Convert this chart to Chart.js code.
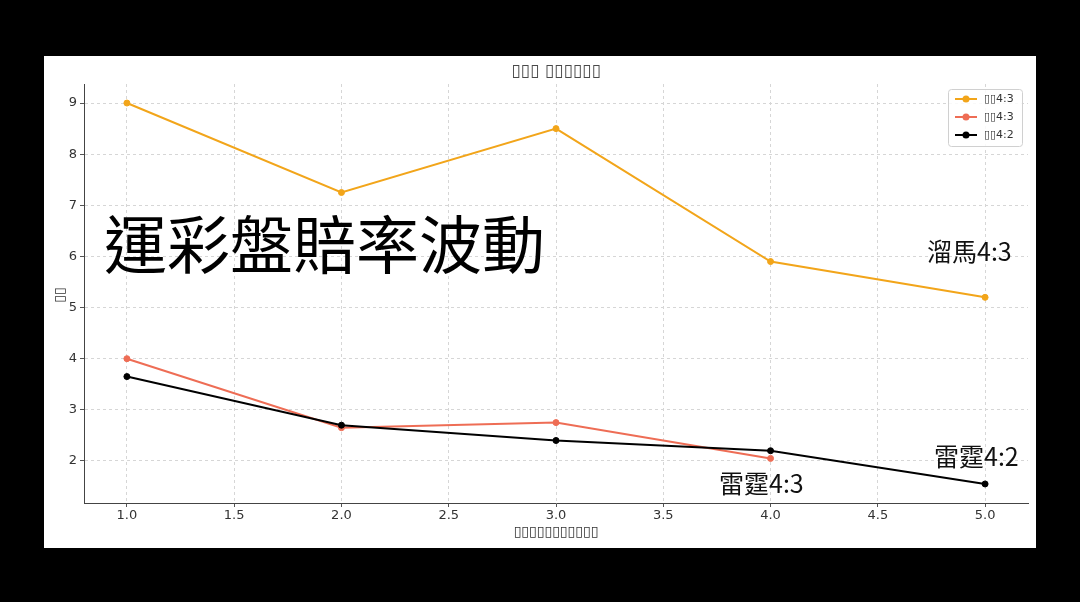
<!DOCTYPE html>
<html>
<head>
<meta charset="utf-8">
<script src="https://cdn.jsdelivr.net/npm/chart.js@4/dist/chart.umd.min.js"></script>
<style>
  html, body { margin: 0; padding: 0; background: #000; width: 1080px; height: 602px; overflow: hidden; }
  #wrap { position: absolute; left: 44px; top: 56px; width: 992px; height: 492px; background: #fff; }
  canvas { display: block; }
</style>
</head>
<body>
<div id="wrap"><canvas id="c" width="992" height="492"></canvas></div>
<script>
// ---- data ----
const xValues = [1, 2, 3, 4, 5];
const seriesNames = ['▯▯4:3', '▯▯4:3', '▯▯4:2'];
const liumaValues = [9.0, 7.25, 8.5, 5.9, 5.2];
const leiting43Values = [4.0, 2.65, 2.75, 2.05, null];
const leiting42Values = [3.65, 2.7, 2.4, 2.2, 1.55];
const xTickValues = [1.0, 1.5, 2.0, 2.5, 3.0, 3.5, 4.0, 4.5, 5.0];
const yTickValues = [2, 3, 4, 5, 6, 7, 8, 9];
const titleText = '▯▯▯ ▯▯▯▯▯▯';
const xAxisLabel = '▯▯▯▯▯▯▯▯▯▯▯';
const yAxisLabel = '▯▯';
const headline = '運彩盤賠率波動';
const annotations = [
  { text: '溜馬4:3', x: 883, y: 205 },
  { text: '雷霆4:2', x: 890, y: 410 },
  { text: '雷霆4:3', x: 675, y: 437 }
];

const colors = ['#F2A51A', '#EE6D55', '#000000'];
const toPts = arr => xValues.map((x, i) => ({ x: x, y: arr[i] }));

const overlay = {
  id: 'overlay',
  afterDraw(chart) {
    const ctx = chart.ctx;
    ctx.save();
    // title
    ctx.fillStyle = '#4a4a4a';
    ctx.font = '17px "DejaVu Sans"';
    ctx.textAlign = 'center';
    ctx.textBaseline = 'middle';
    ctx.fillText(titleText, 512, 16);
    // x label
    ctx.font = '14px "DejaVu Sans"';
    ctx.fillStyle = '#333';
    ctx.fillText(xAxisLabel, 512, 476);
    // y label
    ctx.save();
    ctx.translate(16, 239);
    ctx.rotate(-Math.PI / 2);
    ctx.fillText(yAxisLabel, 0, 0);
    ctx.restore();
    // legend
    const lx = 904, ly = 33, lw = 74, lh = 57;
    ctx.fillStyle = 'rgba(255,255,255,0.85)';
    ctx.strokeStyle = '#d0d0d0';
    ctx.lineWidth = 1;
    ctx.beginPath();
    ctx.roundRect(lx + 0.5, ly + 0.5, lw, lh, 3);
    ctx.fill();
    ctx.stroke();
    ctx.textAlign = 'left';
    ctx.font = '11px "DejaVu Sans"';
    seriesNames.forEach((name, i) => {
      const yy = ly + 10 + i * 18;
      ctx.strokeStyle = colors[i];
      ctx.lineWidth = 2;
      ctx.beginPath();
      ctx.moveTo(lx + 7, yy);
      ctx.lineTo(lx + 29, yy);
      ctx.stroke();
      ctx.fillStyle = colors[i];
      ctx.beginPath();
      ctx.arc(lx + 18, yy, 3.5, 0, Math.PI * 2);
      ctx.fill();
      ctx.fillStyle = '#333';
      ctx.fillText(name, lx + 36, yy);
    });
    // headline
    ctx.fillStyle = '#000';
    ctx.textBaseline = 'alphabetic';
    ctx.font = '63px "Noto Sans CJK TC"';
    ctx.fillText(headline, 60, 212);
    // annotations
    ctx.font = '25px "Noto Sans CJK TC"';
    ctx.fillStyle = '#111';
    annotations.forEach(a => ctx.fillText(a.text, a.x, a.y));
    ctx.restore();
  }
};

const gridCfg = {
  color: '#d6d6d6',
  tickColor: '#555',
  tickLength: 4,
  tickBorderDash: [],
  lineWidth: 1
};
const borderCfg = { display: true, color: '#444', width: 1, dash: [3, 3] };

new Chart(document.getElementById('c'), {
  type: 'line',
  data: {
    datasets: [liumaValues, leiting43Values, leiting42Values].map((vals, i) => ({
      label: seriesNames[i],
      data: toPts(vals),
      borderColor: colors[i],
      backgroundColor: colors[i],
      pointBackgroundColor: colors[i],
      pointBorderColor: colors[i],
      pointRadius: 3,
      pointBorderWidth: 1,
      borderWidth: 2,
      tension: 0,
      spanGaps: false,
      order: 3 - i
    }))
  },
  options: {
    responsive: false,
    animation: false,
    devicePixelRatio: 1,
    layout: { padding: { top: 28, right: 8, left: 0, bottom: 0 } },
    plugins: { legend: { display: false }, tooltip: { enabled: false }, title: { display: false } },
    scales: {
      x: {
        type: 'linear',
        min: 0.8,
        max: 5.2,
        afterBuildTicks: s => { s.ticks = xTickValues.map(v => ({ value: v })); },
        afterFit: s => { s.height = 45; s.paddingLeft = 0; s.paddingRight = 0; },
        ticks: {
          callback: v => Number(v).toFixed(1),
          color: '#333',
          font: { family: 'DejaVu Sans', size: 13 },
          padding: 1,
          maxRotation: 0,
          autoSkip: false
        },
        grid: gridCfg,
        border: borderCfg
      },
      y: {
        type: 'linear',
        min: 1.1775,
        max: 9.3725,
        afterBuildTicks: s => { s.ticks = yTickValues.map(v => ({ value: v })); },
        afterFit: s => { s.width = 40; s.paddingTop = 0; s.paddingBottom = 0; },
        ticks: {
          callback: v => String(v),
          color: '#333',
          font: { family: 'DejaVu Sans', size: 13 },
          padding: 3,
          autoSkip: false
        },
        grid: gridCfg,
        border: borderCfg
      }
    }
  },
  plugins: [overlay]
});
</script>
</body>
</html>
